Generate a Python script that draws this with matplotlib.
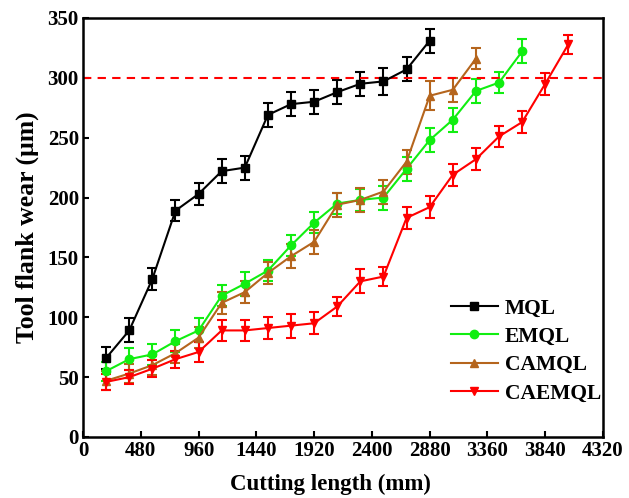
import numpy as np
import matplotlib.pyplot as plt

plt.rcParams['font.family'] = ['Liberation Serif', 'DejaVu Serif']
plt.rcParams['font.weight'] = 'bold'

# cutting length step is 192 mm
step = 192
mql = [66, 89, 132, 189, 203, 222, 225, 269, 278, 280, 288, 295, 297, 307, 331]
mql_err = [9, 10, 9, 9, 9, 10, 10, 10, 10, 10, 10, 10, 11, 10, 10]
emql = [55, 65, 69, 80, 89, 118, 128, 139, 160, 179, 195, 198, 200, 224, 248, 265, 289, 296, 322]
emql_err = [8, 9, 9, 9, 10, 9, 10, 9, 9, 9, 9, 9, 10, 10, 10, 10, 10, 9, 10]
camql = [47, 53, 60, 70, 83, 112, 121, 137, 151, 163, 194, 198, 205, 230, 285, 290, 316]
camql_err = [8, 8, 8, 8, 9, 9, 9, 9, 10, 10, 10, 10, 10, 10, 12, 10, 9]
caemql = [46, 50, 57, 65, 71, 89, 89, 91, 93, 95, 109, 130, 134, 183, 192, 219, 232, 251, 263, 295, 328]
caemql_err = [7, 6, 7, 7, 8, 9, 9, 9, 10, 9, 8, 10, 8, 9, 9, 9, 9, 9, 9, 9, 8]

fig = plt.figure(figsize=(6.29, 4.98), dpi=100)
ax = fig.add_axes([0.132, 0.1225, 0.8267, 0.8415])

series = [
    ('MQL', mql, mql_err, 'black', 's'),
    ('EMQL', emql, emql_err, '#11ee11', 'o'),
    ('CAMQL', camql, camql_err, '#b5651d', '^'),
    ('CAEMQL', caemql, caemql_err, '#ff0000', 'v'),
]
handles = []
for name, y, err, c, m in series:
    x = step * np.arange(1, len(y) + 1)
    eb = ax.errorbar(x, y, yerr=err, color=c, marker=m, markersize=6, lw=1.5,
                     capsize=3.5, capthick=1.5, elinewidth=1.5, label=name)
    handles.append(eb.lines[0])

ax.axhline(300, color='red', ls='--', lw=1.5, dashes=(4, 3))

ax.set_xlim(0, 4320)
ax.set_ylim(0, 350)
ax.set_xticks(np.arange(0, 4321, 480))
ax.set_yticks(np.arange(0, 351, 50))
ax.tick_params(direction='in', labelsize=15, width=1.5, length=4, pad=3)
for lab in ax.get_xticklabels() + ax.get_yticklabels():
    lab.set_fontweight('bold')
for s in ax.spines.values():
    s.set_linewidth(1.8)

ax.set_xlabel('Cutting length (mm)', fontsize=16.5, fontweight='bold')
ax.xaxis.set_label_coords(0.475, -0.088)
ax.set_ylabel('Tool flank wear (μm)', fontsize=18.5, fontweight='bold', labelpad=6)

ax.legend(handles, [s[0] for s in series], loc='lower right',
          bbox_to_anchor=(1.0, 0.075), frameon=False, handlelength=2.2,
          handletextpad=0.3, prop={'weight': 'bold', 'size': 15.5},
          borderaxespad=0, borderpad=0.1, labelspacing=0.38)

fig.savefig('out.png', dpi=100)
